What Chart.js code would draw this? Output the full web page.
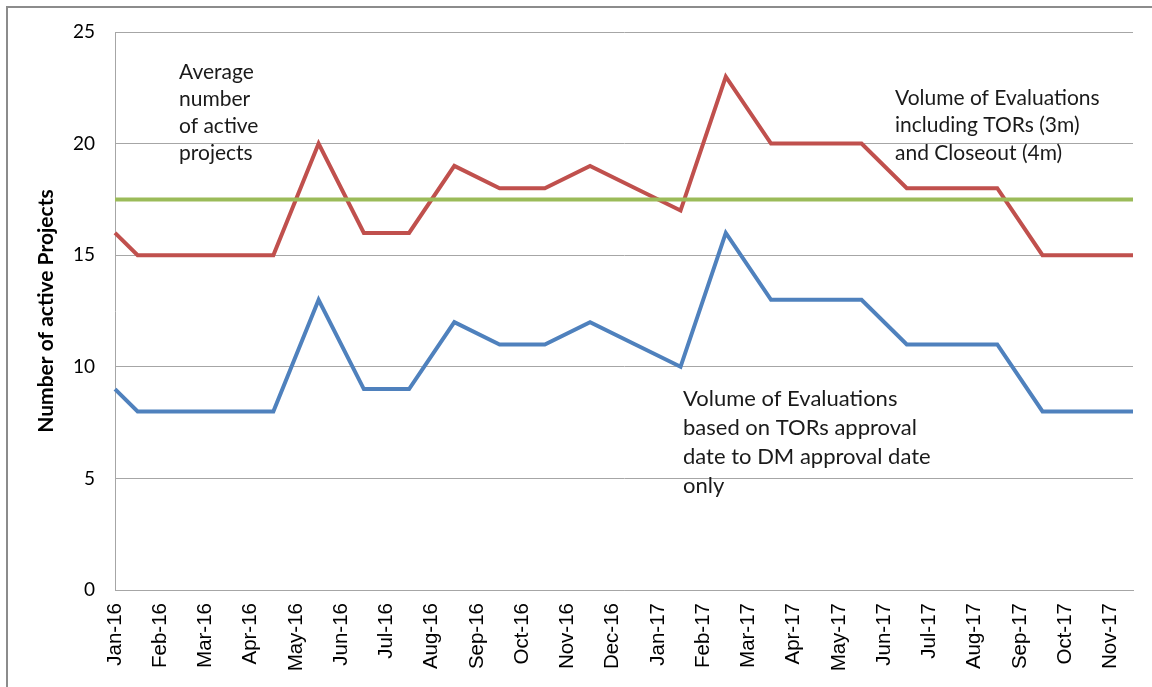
<!DOCTYPE html>
<html>
<head>
<meta charset="utf-8">
<script src="https://cdn.jsdelivr.net/npm/chart.js@4"></script>
<style>
  html, body { margin: 0; padding: 0; background: #fff; }
  #wrap { position: relative; width: 1152px; height: 687px; overflow: hidden; }
  #frame { position: absolute; left: 6px; top: 6px; width: 1200px; height: 800px;
           border-left: 2px solid #8c8c8c; border-top: 2px solid #8c8c8c; pointer-events: none; }
  canvas { position: absolute; left: 0; top: 0; }
</style>
</head>
<body>
<div id="wrap">
  <canvas id="c" width="1152" height="687"></canvas>
  <div id="frame"></div>
</div>
<script>
// Month tick labels (each month spans two slots: start of month, mid-month)
const months = ['Jan-16','Feb-16','Mar-16','Apr-16','May-16','Jun-16','Jul-16','Aug-16','Sep-16','Oct-16','Nov-16','Dec-16',
                'Jan-17','Feb-17','Mar-17','Apr-17','May-17','Jun-17','Jul-17','Aug-17','Sep-17','Oct-17','Nov-17'];
// Value at the very start of the axis (1 Jan 2016)
const inclTorsStart = 16;
const torsToDmStart = 9;
// Mid-month values
const inclTors = [15,15,15,15,20,16,16,19,18,18,19,18,17,23,20,20,20,18,18,18,15,15,15];
const torsToDm = [8,8,8,8,13,9,9,12,11,11,12,11,10,16,13,13,13,11,11,11,8,8,8];
const avgActive = 17.5;
const yTicks = [0,5,10,15,20,25];

const labels = months.flatMap(m => [m, '']);
function toSlots(start, mid) {
  const arr = labels.map(() => null);
  arr[0] = start;
  mid.forEach((v, k) => { arr[2 * k + 1] = v; });
  return arr;
}
const redData = toSlots(inclTorsStart, inclTors);
const blueData = toSlots(torsToDmStart, torsToDm);
const greenData = labels.map(() => avgActive);

const notes = {
  id: 'notes',
  afterDraw(chart) {
    const ctx = chart.ctx;
    ctx.save();
    ctx.fillStyle = '#1a1a1a';
    ctx.textBaseline = 'middle';
    ctx.textAlign = 'left';
    const blocks = [
      { x: 179, y: 72, gap: 27, size: 21, lines: ['Average', 'number', 'of active', 'projects'] },
      { x: 895, y: 98, gap: 27.5, size: 21, lines: ['Volume of Evaluations', 'including TORs (3m)', 'and Closeout (4m)'] },
      { x: 683, y: 399, gap: 29, size: 22, lines: ['Volume of Evaluations', 'based on TORs approval', 'date to DM approval date', 'only'] }
    ];
    blocks.forEach(b => {
      ctx.font = b.size + 'px Lato';
      b.lines.forEach((t, i) => ctx.fillText(t, b.x, b.y + i * b.gap));
    });
    ctx.restore();
  }
};

new Chart(document.getElementById('c'), {
  type: 'line',
  data: {
    labels: labels,
    datasets: [
      { label: 'Volume of Evaluations based on TORs approval date to DM approval date only', data: blueData,
        borderColor: '#4F81BD', borderWidth: 4, pointRadius: 0, spanGaps: true, tension: 0, order: 3 },
      { label: 'Volume of Evaluations including TORs (3m) and Closeout (4m)', data: redData,
        borderColor: '#C0504D', borderWidth: 4, pointRadius: 0, spanGaps: true, tension: 0, order: 2 },
      { label: 'Average number of active projects', data: greenData,
        borderColor: '#9BBB59', borderWidth: 4, pointRadius: 0, tension: 0, order: 1 }
    ]
  },
  options: {
    responsive: false,
    animation: false,
    layout: { padding: { top: 32, right: 19, left: 0, bottom: 0 } },
    plugins: { legend: { display: false }, tooltip: { enabled: false } },
    scales: {
      x: {
        type: 'category',
        offset: false,
        grid: { display: false, drawTicks: false },
        border: { display: true, color: '#a6a6a6', width: 1 },
        ticks: {
          autoSkip: false, maxRotation: 90, minRotation: 90, padding: 13,
          color: '#000', font: { family: 'Liberation Sans', size: 20.5 },
          callback: function (v) { return this.getLabelForValue(v); }
        },
        afterFit(scale) { scale.height = 97; scale.paddingLeft = 0; scale.paddingRight = 0; }
      },
      y: {
        min: 0, max: 25,
        afterBuildTicks(scale) { scale.ticks = yTicks.map(v => ({ value: v })); },
        grid: { color: '#a6a6a6', lineWidth: 1, drawTicks: false },
        border: { display: true, color: '#a6a6a6', width: 1 },
        ticks: { padding: 20, color: '#000', font: { family: 'Lato', size: 19 } },
        title: { display: true, text: 'Number of active Projects', color: '#000',
                 font: { family: 'Lato', size: 21, weight: 'bold' }, padding: { top: 34, bottom: 0 } },
        afterFit(scale) { scale.width = 115; }
      }
    }
  },
  plugins: [notes]
});
</script>
</body>
</html>
